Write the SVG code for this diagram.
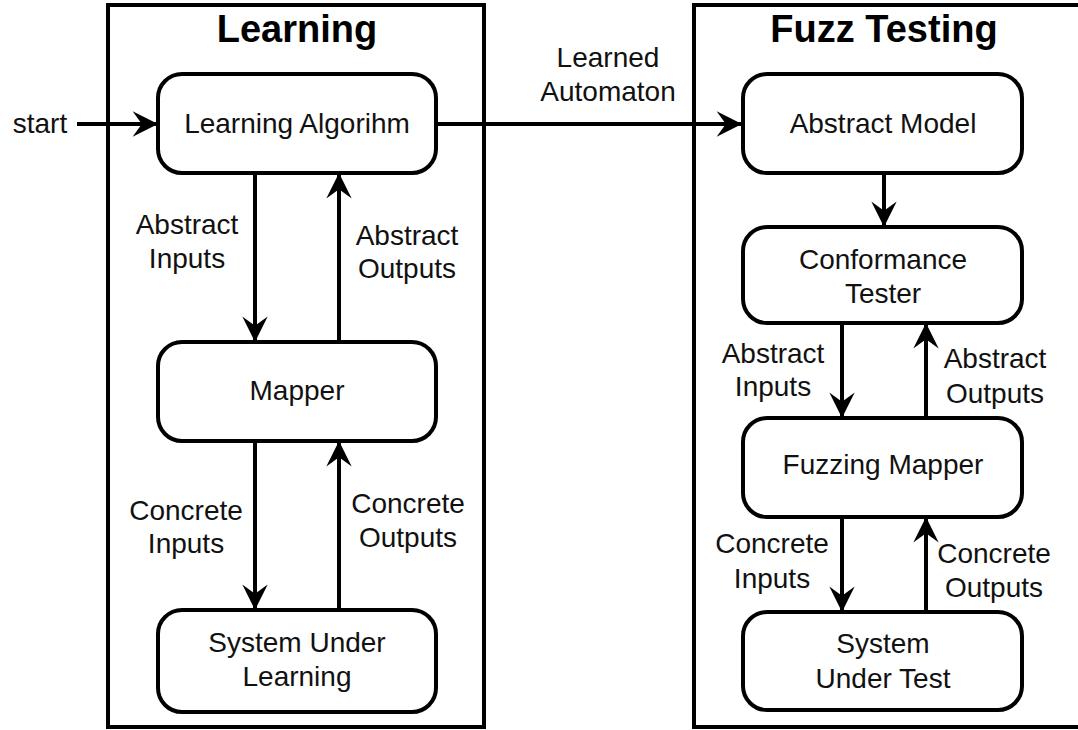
<svg xmlns="http://www.w3.org/2000/svg" width="1078" height="730" viewBox="0 0 1078 730">
  <style>
    .frame { fill: none; stroke: #000; stroke-width: 4; }
    .box { fill: #fff; stroke: #000; stroke-width: 4; }
    .edge { fill: none; stroke: #000; stroke-width: 4; marker-end: url(#head); }
    text { font-family: "Liberation Sans", Arial, Helvetica, sans-serif; font-size: 28px; fill: #111; text-anchor: middle; }
    .title { font-size: 38px; font-weight: bold; fill: #000; }
  </style>
  <defs>
    <marker id="head" markerUnits="userSpaceOnUse" markerWidth="30" markerHeight="30" viewBox="-24 -13 26 26" refX="0" refY="0" orient="auto">
      <path d="M0,0 L-22,-11 L-14,0 L-22,11 Z" fill="#000"/>
    </marker>
  </defs>

  <rect width="1078" height="730" fill="#fff"/>

  <!-- Containers -->
  <g id="learning-frame">
    <rect class="frame" x="108" y="5" width="376" height="722"/>
    <text class="title" x="297" y="42">Learning</text>
  </g>
  <g id="fuzz-frame">
    <rect class="frame" x="694" y="5" width="400" height="722"/>
    <text class="title" x="884" y="42">Fuzz Testing</text>
  </g>

  <!-- Connectors -->
  <g id="connectors">
    <line class="edge" x1="77" y1="124" x2="158" y2="124"/>
    <line class="edge" x1="436" y1="124" x2="742" y2="124"/>
    <line class="edge" x1="255" y1="173" x2="255" y2="342"/>
    <line class="edge" x1="339" y1="342" x2="339" y2="173"/>
    <line class="edge" x1="255" y1="441" x2="255" y2="610"/>
    <line class="edge" x1="339" y1="610" x2="339" y2="441"/>
    <line class="edge" x1="884" y1="173" x2="884" y2="227"/>
    <line class="edge" x1="842" y1="323" x2="842" y2="418"/>
    <line class="edge" x1="926" y1="418" x2="926" y2="323"/>
    <line class="edge" x1="842" y1="517" x2="842" y2="612"/>
    <line class="edge" x1="926" y1="612" x2="926" y2="517"/>

    <text x="40" y="133">start</text>
    <text x="608" y="67">Learned</text>
    <text x="608" y="101">Automaton</text>

    <text x="187" y="234">Abstract</text>
    <text x="187" y="268">Inputs</text>
    <text x="407" y="245">Abstract</text>
    <text x="407" y="278">Outputs</text>
    <text x="186" y="520">Concrete</text>
    <text x="186" y="553">Inputs</text>
    <text x="408" y="513">Concrete</text>
    <text x="408" y="547">Outputs</text>

    <text x="773" y="363">Abstract</text>
    <text x="773" y="396">Inputs</text>
    <text x="995" y="368">Abstract</text>
    <text x="995" y="403">Outputs</text>
    <text x="772" y="553">Concrete</text>
    <text x="772" y="588">Inputs</text>
    <text x="994" y="563">Concrete</text>
    <text x="994" y="597">Outputs</text>
  </g>

  <!-- Learning nodes -->
  <g id="learning-algorithm">
    <rect class="box" x="158" y="74" width="278" height="99" rx="24"/>
    <text x="297" y="133">Learning Algorihm</text>
  </g>
  <g id="mapper">
    <rect class="box" x="158" y="342" width="278" height="99" rx="24"/>
    <text x="297" y="400">Mapper</text>
  </g>
  <g id="system-under-learning">
    <rect class="box" x="158" y="610" width="278" height="102" rx="24"/>
    <text x="297" y="652">System Under</text>
    <text x="297" y="686">Learning</text>
  </g>

  <!-- Fuzz testing nodes -->
  <g id="abstract-model">
    <rect class="box" x="743" y="74" width="279" height="99" rx="24"/>
    <text x="883" y="133">Abstract Model</text>
  </g>
  <g id="conformance-tester">
    <rect class="box" x="743" y="227" width="279" height="96" rx="24"/>
    <text x="883" y="269">Conformance</text>
    <text x="883" y="303">Tester</text>
  </g>
  <g id="fuzzing-mapper">
    <rect class="box" x="743" y="418" width="279" height="99" rx="24"/>
    <text x="883" y="474">Fuzzing Mapper</text>
  </g>
  <g id="system-under-test">
    <rect class="box" x="743" y="612" width="279" height="98" rx="24"/>
    <text x="883" y="653">System</text>
    <text x="883" y="688">Under Test</text>
  </g>
</svg>
